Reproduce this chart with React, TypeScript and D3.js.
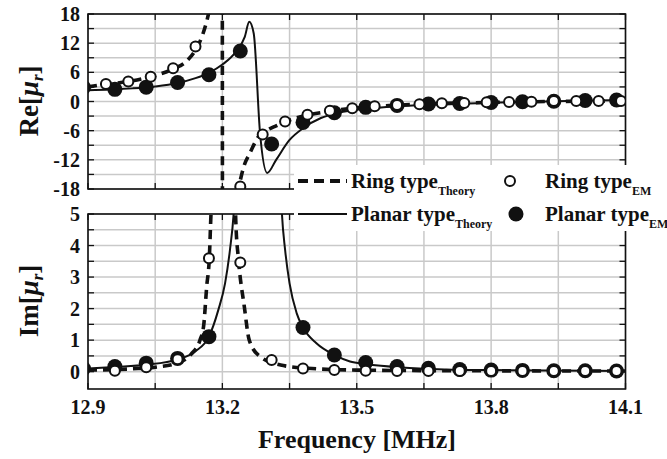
import React from "react";
import * as d3 from "d3";

// frequency axis
const freqTicks = [12.9, 13.2, 13.5, 13.8, 14.1];
const freqGrid = [12.9, 13.05, 13.2, 13.35, 13.5, 13.65, 13.8, 13.95, 14.1];
const reTicks = [18, 12, 6, 0, -6, -12, -18];
const reGrid = [18, 15, 12, 9, 6, 3, 0, -3, -6, -9, -12, -15, -18];
const imTicks = [5, 4, 3, 2, 1, 0];
const imGrid = [5, 4.5, 4, 3.5, 3, 2.5, 2, 1.5, 1, 0.5, 0];

// Re[mu_r] -- theory curves
const ringTheoryReF = [12.9, 12.94, 12.99, 13.04, 13.09, 13.12, 13.14, 13.155, 13.165, 13.175, 13.185, 13.195, 13.199, 13.201, 13.205, 13.215, 13.225, 13.236, 13.25, 13.26, 13.28, 13.3, 13.32, 13.35, 13.39, 13.44, 13.49, 13.54, 13.59, 13.64, 13.69, 13.79, 13.89, 13.99, 14.1];
const ringTheoryReV = [3.0, 3.55, 4.1, 5.1, 6.7, 8.3, 10.6, 13.5, 16.5, 21, 30, 60, 120, -120, -60, -34, -24, -18, -12.8, -10.9, -7.3, -5.9, -5.0, -3.8, -2.8, -2.0, -1.4, -1.0, -0.75, -0.55, -0.4, -0.2, -0.05, 0.05, 0.1];
const planarTheoryReF = [12.9, 12.95, 13.0, 13.05, 13.1, 13.14, 13.17, 13.2, 13.23, 13.25, 13.26, 13.27, 13.284, 13.3, 13.32, 13.35, 13.38, 13.42, 13.46, 13.52, 13.6, 13.7, 13.8, 13.9, 14.0, 14.1];
const planarTheoryReV = [2.3, 2.45, 2.7, 3.1, 3.8, 4.8, 5.9, 7.6, 10.2, 13.3, 16.4, 14.0, -6.4, -14.7, -12.0, -7.9, -5.5, -3.4, -2.3, -1.5, -0.95, -0.55, -0.25, -0.05, 0.15, 0.3];

// Re[mu_r] -- EM simulation points
const ringEmReF = [12.94, 12.99, 13.04, 13.09, 13.14, 13.24, 13.29, 13.34, 13.39, 13.44, 13.49, 13.54, 13.59, 13.64, 13.69, 13.74, 13.79, 13.84, 13.89, 13.94, 13.99, 14.04, 14.09];
const ringEmReV = [3.6, 4.1, 5.1, 6.85, 11.3, -17.5, -6.8, -4.1, -2.7, -1.9, -1.4, -1.0, -0.7, -0.55, -0.35, -0.3, -0.15, -0.1, -0.05, 0.1, 0.1, 0.1, 0.1];
const planarEmReF = [12.89, 12.96, 13.03, 13.1, 13.17, 13.24, 13.31, 13.38, 13.45, 13.52, 13.59, 13.66, 13.73, 13.8, 13.87, 13.94, 14.01, 14.08];
const planarEmReV = [2.9, 2.5, 2.95, 3.9, 5.5, 10.4, -8.75, -4.3, -2.3, -1.2, -0.8, -0.5, -0.4, -0.2, -0.05, 0.05, 0.2, 0.3];

// Im[mu_r] -- theory curves
const ringTheoryImF = [12.9, 13.0, 13.05, 13.1, 13.13, 13.15, 13.158, 13.165, 13.171, 13.174, 13.18, 13.2, 13.226, 13.23, 13.236, 13.249, 13.26, 13.284, 13.33, 13.4, 13.5, 13.7, 14.1];
const ringTheoryImV = [0.05, 0.09, 0.14, 0.28, 0.55, 1.0, 1.43, 2.7, 3.65, 4.8, 7, 60, 7, 4.77, 3.55, 2.06, 1.0, 0.48, 0.21, 0.1, 0.05, 0.03, 0.02];
const planarTheoryImF = [12.9, 12.96, 13.03, 13.1, 13.14, 13.17, 13.191, 13.206, 13.217, 13.225, 13.235, 13.28, 13.325, 13.333, 13.34, 13.35, 13.366, 13.38, 13.41, 13.45, 13.485, 13.52, 13.6, 13.7, 13.8, 14.1];
const planarTheoryImV = [0.1, 0.15, 0.22, 0.39, 0.65, 1.11, 1.96, 2.8, 3.87, 4.98, 8, 40, 8, 5.0, 3.87, 2.8, 1.85, 1.4, 0.9, 0.53, 0.32, 0.24, 0.13, 0.07, 0.05, 0.02];

// Im[mu_r] -- EM simulation points
const ringEmImF = [12.96, 13.03, 13.1, 13.17, 13.24, 13.31, 13.38, 13.45, 13.52, 13.59, 13.66, 13.73, 13.8, 13.87, 13.94, 14.01, 14.08];
const ringEmImV = [0.03, 0.14, 0.39, 3.6, 3.46, 0.37, 0.1, 0.05, 0.03, 0.02, 0.02, 0.02, 0.02, 0.02, 0.02, 0.02, 0.02];
const planarEmImF = [12.89, 12.96, 13.03, 13.1, 13.17, 13.38, 13.45, 13.52, 13.59, 13.66, 13.73, 13.8, 13.87, 13.94, 14.01, 14.08];
const planarEmImV = [0.1, 0.16, 0.27, 0.42, 1.11, 1.4, 0.53, 0.29, 0.16, 0.11, 0.07, 0.05, 0.04, 0.03, 0.03, 0.02];

const FONT = "Liberation Serif, Times New Roman, DejaVu Serif, serif";
const INK = "#111";
const GRID = "#c9c9c9";

const x = d3.scaleLinear().domain([12.9, 14.1]).range([88, 625.5]);
const yRe = d3.scaleLinear().domain([-18, 18]).range([189, 14]);
const yIm = d3.scaleLinear().domain([-0.55, 5]).range([389, 214]);

const zip = (f: number[], v: number[]) => f.map((d, i) => [d, v[i]] as [number, number]);

const Panel = ({ y, grid, ticks, id, children }: any) => {
  const [x0, x1] = x.range();
  const [y0, y1] = [y.range()[1], y.range()[0]];
  return (
    <g>
      <defs>
        <clipPath id={id}>
          <rect x={x0} y={y0} width={x1 - x0} height={y1 - y0} />
        </clipPath>
      </defs>
      {freqGrid.map((f) => (
        <line key={"v" + f} x1={x(f)} x2={x(f)} y1={y0} y2={y1} stroke={GRID} strokeWidth={1.5} />
      ))}
      {grid.map((v: number) => (
        <line key={"h" + v} x1={x0} x2={x1} y1={y(v)} y2={y(v)} stroke={GRID} strokeWidth={1.5} />
      ))}
      {freqGrid.map((f) => (
        <g key={"t" + f} stroke={INK} strokeWidth={1.3}>
          <line x1={x(f)} x2={x(f)} y1={y1} y2={y1 - 6} />
          <line x1={x(f)} x2={x(f)} y1={y0} y2={y0 + 6} />
        </g>
      ))}
      {grid.map((v: number) => (
        <g key={"s" + v} stroke={INK} strokeWidth={1.3}>
          <line x1={x0} x2={x0 + 6} y1={y(v)} y2={y(v)} />
          <line x1={x1} x2={x1 - 6} y1={y(v)} y2={y(v)} />
        </g>
      ))}
      <g clipPath={`url(#${id})`}>{children}</g>
      <rect x={x0} y={y0} width={x1 - x0} height={y1 - y0} fill="none" stroke={INK} strokeWidth={1.6} />
      {ticks.map((v: number) => (
        <text key={"l" + v} x={80} y={y(v)} dy="0.35em" textAnchor="end" fontSize={20} fontWeight="bold">
          {v}
        </text>
      ))}
    </g>
  );
};

const Series = ({ y, ringF, ringV, planarF, planarV, ringEF, ringEV, planarEF, planarEV }: any) => {
  const line = d3
    .line<[number, number]>()
    .x((d) => x(d[0]))
    .y((d) => y(d[1]))
    .curve(d3.curveMonotoneX);
  return (
    <g>
      <path d={line(zip(planarF, planarV)) || ""} fill="none" stroke={INK} strokeWidth={2} />
      <path d={line(zip(ringF, ringV)) || ""} fill="none" stroke={INK} strokeWidth={3.6} strokeDasharray="9,6" />
      {zip(planarEF, planarEV).map((d, i) => (
        <circle key={"p" + i} cx={x(d[0])} cy={y(d[1])} r={7.5} fill={INK} />
      ))}
      {zip(ringEF, ringEV).map((d, i) => (
        <circle key={"r" + i} cx={x(d[0])} cy={y(d[1])} r={5} fill="#fff" stroke={INK} strokeWidth={2} />
      ))}
    </g>
  );
};

const AxisTitle = ({ label, cy }: { label: string; cy: number }) => (
  <text transform={`translate(38,${cy}) rotate(-90)`} textAnchor="middle" fontSize={27} fontWeight="bold">
    {label}[<tspan fontStyle="italic">μ</tspan>
    <tspan fontStyle="italic" fontSize={17} dy={5}>r</tspan>
    <tspan dy={-5}>]</tspan>
  </text>
);

const LegendText = ({ x0, y0, main, sub }: any) => (
  <text x={x0} y={y0} fontSize={21} fontWeight="bold">
    {main}
    <tspan fontSize={12} dy={7}>{sub}</tspan>
  </text>
);

export default function App() {
  return (
    <svg
      width={667}
      height={459}
      viewBox="0 0 667 459"
      style={{ position: "absolute", left: 0, top: 0, background: "#fff", fontFamily: FONT }}
      fill={INK}
    >
      <rect width={667} height={459} fill="#fff" />
      <Panel y={yRe} grid={reGrid} ticks={reTicks} id="clipRe">
        <Series
          y={yRe}
          ringF={ringTheoryReF}
          ringV={ringTheoryReV}
          planarF={planarTheoryReF}
          planarV={planarTheoryReV}
          ringEF={ringEmReF}
          ringEV={ringEmReV}
          planarEF={planarEmReF}
          planarEV={planarEmReV}
        />
      </Panel>
      <Panel y={yIm} grid={imGrid} ticks={imTicks} id="clipIm">
        <Series
          y={yIm}
          ringF={ringTheoryImF}
          ringV={ringTheoryImV}
          planarF={planarTheoryImF}
          planarV={planarTheoryImV}
          ringEF={ringEmImF}
          ringEV={ringEmImV}
          planarEF={planarEmImF}
          planarEV={planarEmImV}
        />
      </Panel>

      {/* legend sits over both panels */}
      <rect x={294} y={165} width={373} height={66} fill="#fff" />
      <line x1={298} x2={347} y1={181} y2={181} stroke={INK} strokeWidth={4} strokeDasharray="10,6" />
      <LegendText x0={351} y0={188} main="Ring type" sub="Theory" />
      <circle cx={510} cy={181} r={5} fill="#fff" stroke={INK} strokeWidth={2} />
      <LegendText x0={545} y0={188} main="Ring type" sub="EM" />
      <line x1={298} x2={347} y1={214} y2={214} stroke={INK} strokeWidth={2} />
      <LegendText x0={351} y0={221} main="Planar type" sub="Theory" />
      <circle cx={516} cy={214} r={7.5} fill={INK} />
      <LegendText x0={545} y0={221} main="Planar type" sub="EM" />

      {freqTicks.map((f) => (
        <text key={f} x={x(f)} y={414} textAnchor="middle" fontSize={20} fontWeight="bold">
          {f.toFixed(1)}
        </text>
      ))}
      <text x={357} y={448} textAnchor="middle" fontSize={26} fontWeight="bold">
        Frequency [MHz]
      </text>
      <AxisTitle label="Re" cy={101} />
      <AxisTitle label="Im" cy={301} />
    </svg>
  );
}
